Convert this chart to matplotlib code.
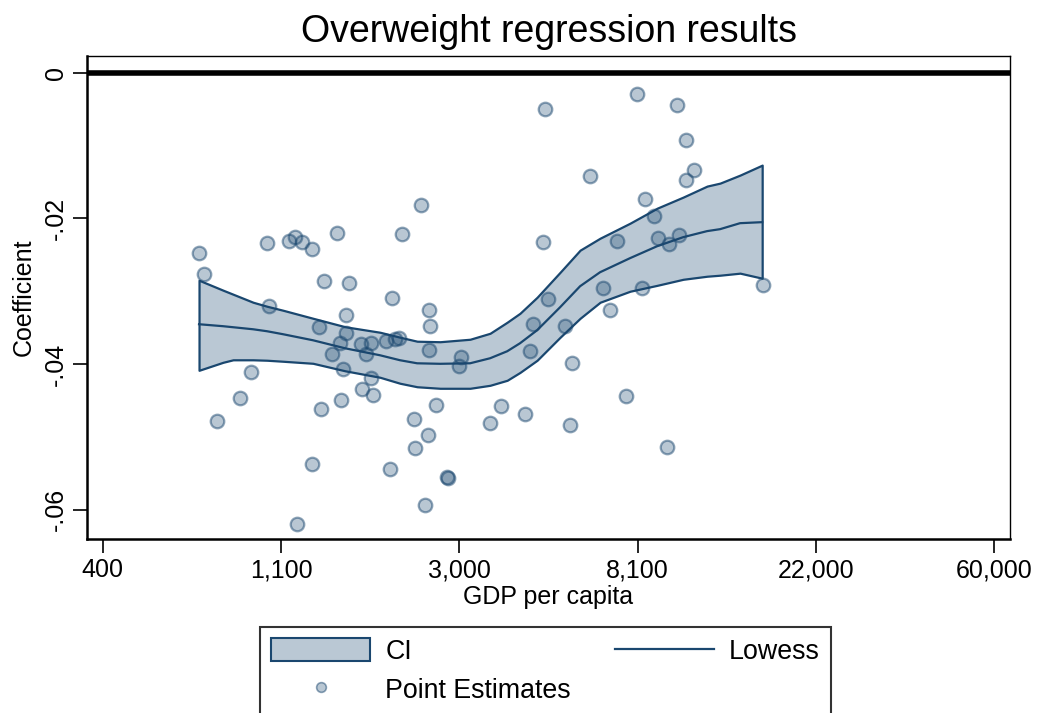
import numpy as np
import matplotlib.pyplot as plt
from matplotlib.patches import Patch
from matplotlib.lines import Line2D

plt.rcParams['font.family'] = ['Liberation Sans', 'DejaVu Sans']

# ----------- point estimates (x = log GDP per capita) ---------
log_gdp = [6.538, 6.566, 6.923, 7.043, 7.079, 7.116, 7.176, 7.312, 7.679, 7.241,
           7.380, 7.624, 6.933, 7.363, 7.215, 7.363, 7.331, 7.449, 7.505, 7.587,
           7.639, 7.662, 7.286, 7.477, 7.349, 7.505, 6.833, 6.770, 7.453, 7.516,
           7.335, 7.223, 6.643, 7.174, 7.611, 7.090, 8.479, 8.998, 9.223, 9.273,
           9.316, 9.268, 8.733, 9.043, 9.089, 7.787, 8.468, 8.885, 9.116, 9.173,
           9.231, 8.808, 9.022, 8.496, 7.830, 7.837, 7.830, 8.011, 8.000, 8.415,
           8.593, 8.397, 8.845, 8.632, 8.932, 7.868, 8.232, 7.746, 8.370, 8.171,
           8.621, 7.824, 7.750, 9.166, 7.929, 7.938, 7.808, 9.702]
coef = [-0.02481, -0.02765, -0.02335, -0.02312, -0.02261, -0.02330, -0.02422, -0.02206, -0.02212, -0.02857,
        -0.02885, -0.03088, -0.03201, -0.03319, -0.03489, -0.03571, -0.03709, -0.03717, -0.03703, -0.03676,
        -0.03658, -0.03635, -0.03864, -0.03864, -0.04060, -0.04184, -0.04102, -0.04459, -0.04345, -0.04423,
        -0.04496, -0.04615, -0.04784, -0.05365, -0.05434, -0.06195, -0.00503, -0.00293, -0.00437, -0.00920,
        -0.01337, -0.01474, -0.01415, -0.01731, -0.01962, -0.01817, -0.02326, -0.02308, -0.02271, -0.02349,
        -0.02229, -0.02948, -0.02948, -0.03102, -0.03250, -0.03475, -0.03799, -0.03905, -0.04029, -0.03442,
        -0.03479, -0.03813, -0.03260, -0.03978, -0.04437, -0.04565, -0.04569, -0.04747, -0.04684, -0.04808,
        -0.04835, -0.04977, -0.05146, -0.05137, -0.05549, -0.05563, -0.05929, -0.02920]

# ----------- lowess fit and CI ---------
fit_x = [6.540, 6.675, 6.731, 6.843, 6.921, 7.011, 7.179, 7.359, 7.555, 7.667,
         7.763, 7.892, 8.060, 8.172, 8.268, 8.340, 8.436, 8.565, 8.677, 8.789,
         8.957, 9.109, 9.255, 9.389, 9.462, 9.574, 9.698]
ci_hi = [-0.02848, -0.02985, -0.03040, -0.03150, -0.03205, -0.03260, -0.03370, -0.03486, -0.03562, -0.03630,
         -0.03685, -0.03692, -0.03658, -0.03576, -0.03424, -0.03301, -0.03081, -0.02738, -0.02435, -0.02271,
         -0.02065, -0.01859, -0.01707, -0.01556, -0.01515, -0.01405, -0.01268]
lowess = [-0.03452, -0.03479, -0.03493, -0.03521, -0.03548, -0.03589, -0.03672, -0.03782, -0.03878, -0.03946,
          -0.03988, -0.03995, -0.03988, -0.03919, -0.03823, -0.03713, -0.03534, -0.03218, -0.02930, -0.02738,
          -0.02545, -0.02381, -0.02257, -0.02174, -0.02147, -0.02065, -0.02051]
ci_lo = [-0.04084, -0.03974, -0.03940, -0.03940, -0.03946, -0.03960, -0.03988, -0.04091, -0.04180, -0.04262,
         -0.04310, -0.04331, -0.04331, -0.04290, -0.04221, -0.04113, -0.03946, -0.03630, -0.03370, -0.03150,
         -0.02999, -0.02918, -0.02835, -0.02793, -0.02779, -0.02751, -0.02820]

xticks = [6, 7, 8, 9, 10, 11]
xticklabels = ['400', '1,100', '3,000', '8,100', '22,000', '60,000']
yticks = [0, -0.02, -0.04, -0.06]
yticklabels = ['0', '-.02', '-.04', '-.06']

navy = '#1a476f'
band = '#bac8d4'
pt_face = (26/255, 71/255, 111/255, 0.3)
pt_edge = (26/255, 71/255, 111/255, 0.5)

fig = plt.figure(figsize=(10.4, 7.13), dpi=100)
ax = fig.add_axes([0.0837, 0.244, 0.8875, 0.6775])

ax.fill_between(fit_x, ci_lo, ci_hi, facecolor=band, edgecolor=navy, lw=1.6, zorder=2)
ax.plot(fit_x, lowess, color=navy, lw=1.6, zorder=3)
ax.scatter(log_gdp, coef, s=95, facecolors=pt_face, edgecolors=pt_edge, linewidths=1.6, zorder=4)
ax.axhline(0, color='black', lw=4, zorder=5)

ax.set_xlim(5.912, 11.088)
ax.set_ylim(-0.0640, 0.0023)
ax.set_xticks(xticks)
ax.set_xticklabels(xticklabels)
ax.set_yticks(yticks)
ax.set_yticklabels(yticklabels, rotation=90, va='center')
ax.tick_params(axis='both', labelsize=18, length=10, width=1.2, direction='out', pad=4)

for side in ['left', 'bottom']:
    ax.spines[side].set_linewidth(1.8)
for side in ['top', 'right']:
    ax.spines[side].set_linewidth(1.0)

ax.set_title('Overweight regression results', fontsize=27, pad=10)
ax.set_xlabel('GDP per capita', fontsize=18, labelpad=2)
ax.set_ylabel('Coefficient', fontsize=18, labelpad=6)

handles = [Patch(facecolor=band, edgecolor=navy, lw=1.5),
           Line2D([], [], ls='none', marker='o', markersize=7,
                  markerfacecolor=pt_face, markeredgecolor=pt_edge, markeredgewidth=1.2),
           Line2D([], [], color=navy, lw=1.6)]
labels = ['CI', 'Point Estimates', 'Lowess']
leg = fig.legend(handles, labels, ncol=2, loc='upper left',
                 bbox_to_anchor=(260/1040, 1 - 627/713), fontsize=19.3,
                 frameon=True, fancybox=False, edgecolor='black',
                 handlelength=3.7, handleheight=0.95, handletextpad=0.55,
                 columnspacing=1.65, labelspacing=0.45, borderpad=0.42,
                 borderaxespad=0)
leg.get_frame().set_linewidth(1.5)

fig.savefig('out.png', dpi=100)
